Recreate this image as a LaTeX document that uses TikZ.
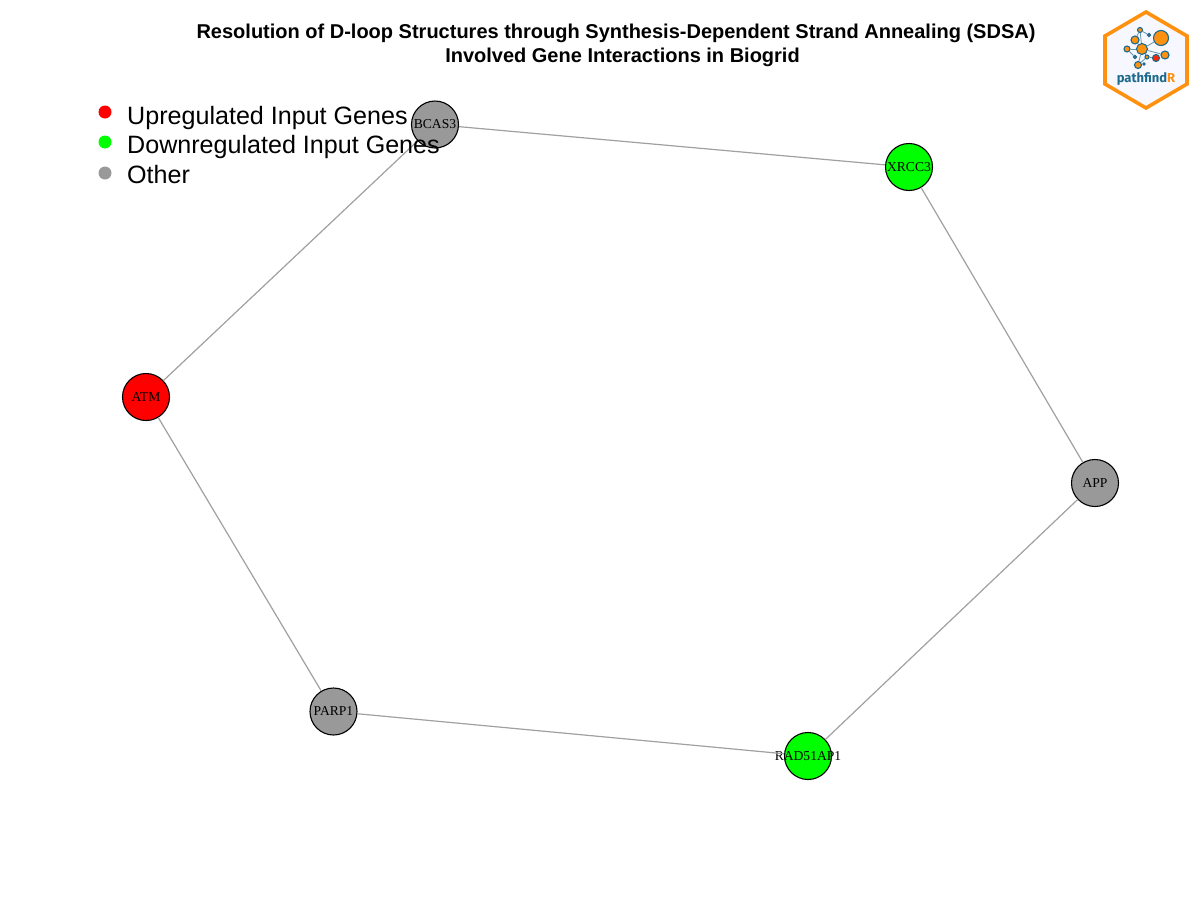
\documentclass[tikz,border=0pt]{standalone}
\usepackage{xcolor}
\usepackage{fontspec}
\setmainfont{Liberation Sans}
\newfontfamily\genefont{Liberation Serif}
\newfontfamily\logofont{Fira Sans}
\usepackage{tikz}
\usetikzlibrary{
  arrows.meta,
  positioning,
  calc
}
\definecolor{othergray}{HTML}{999999}
\definecolor{linkgray}{HTML}{A0A0A0}
\definecolor{logoorange}{HTML}{FF9110}
\definecolor{logoblue}{HTML}{1B6A8C}
\tikzset{
    gene/.style={circle, draw=black, line width=1.1pt, minimum size=47pt, inner sep=0pt, font=\genefont\fontsize{13.6}{15}\selectfont},
    edgeline/.style={draw=linkgray, line width=1.2pt},
    dot/.style={circle, minimum size=13pt, inner sep=0pt},
    legendtext/.style={anchor=base west, inner sep=0pt, font=\fontsize{25.1}{30}\selectfont},
    titletext/.style={anchor=base, inner sep=0pt, font=\bfseries\fontsize{20}{24}\selectfont},
    hub/.style={circle, draw=logoblue, fill=logoorange, line width=1.1pt, inner sep=0pt, minimum size=#1},
    hubline/.style={draw=logoblue!70!white, line width=0.8pt}
}
\begin{document}
\begin{tikzpicture}[x=1pt, y=-1pt]
        \useasboundingbox (0,0) rectangle (1200,900);
        % Genes
        \node[gene, fill=othergray] (bcas3) at (435,124.5) {BCAS3};
        \node[gene, fill=green] (xrcc3) at (909,167) {XRCC3};
        \node[gene, fill=othergray] (app) at (1095,483) {APP};
        \node[gene, fill=green] (rad51ap1) at (808,756) {\makebox[0pt]{RAD51AP1}};
        \node[gene, fill=othergray] (parp1) at (333.5,711.5) {PARP1};
        \node[gene, fill=red] (atm) at (146,397) {ATM};
        \draw[edgeline] (bcas3)--(xrcc3); \draw[edgeline] (xrcc3)--(app);
        \draw[edgeline] (app)--(rad51ap1); \draw[edgeline] (rad51ap1)--(parp1);
        \draw[edgeline] (parp1)--(atm); \draw[edgeline] (atm)--(bcas3);
        % Title
        \node[titletext] (title1) at (616,38) {Resolution of D-loop Structures through Synthesis-Dependent Strand Annealing (SDSA)};
        \node[titletext] (title2) at (622.5,62) {Involved Gene Interactions in Biogrid};
        % Legend
        \node[dot, fill=red] (upd) at (105,112) {};
        \node[dot, fill=green] (downd) at (105,142) {};
        \node[dot, fill=othergray] (otherd) at (105,173) {};
        \node[legendtext] (upt) at (127,124) {Upregulated Input Genes};
        \node[legendtext] (downt) at (127,153.5) {Downregulated Input Genes};
        \node[legendtext] (othert) at (127,183.5) {Other};
        % Logo
        \draw[draw=logoorange, fill=blue!3!white, line width=3.6pt, line join=miter] (1146,12)--(1187,36)--(1187,84)--(1146,108)--(1105,84)--(1105,36)--cycle;
        \node[hub=15pt] (l1) at (1161,38) {};
        \node[hub=11pt] (l2) at (1142,49) {};
        \node[hub=8pt] (l3) at (1135,40) {};
        \node[hub=5pt] (l4) at (1140,30) {};
        \node[hub=3pt] (l5) at (1149,35) {};
        \node[hub=6pt] (l6) at (1127,49) {};
        \node[hub=3pt] (l7) at (1135,57) {};
        \node[hub=7pt] (l8) at (1138,65) {};
        \node[hub=2pt] (l9) at (1144,64) {};
        \node[hub=4pt] (l10) at (1147,57) {};
        \node[hub=7pt, fill=red!70!orange] (l11) at (1156,58) {};
        \node[hub=8pt] (l12) at (1165,55) {};
        \draw[hubline] (l2)--(l1); \draw[hubline] (l2)--(l3);
        \draw[hubline] (l3)--(l4); \draw[hubline] (l4)--(l5);
        \draw[hubline] (l2)--(l6); \draw[hubline] (l6)--(l7);
        \draw[hubline] (l2)--(l8); \draw[hubline] (l2)--(l10);
        \draw[hubline] (l2)--(l12); \draw[hubline] (l10)--(l8);
        \draw[hubline] (l4)--(l2); \draw[hubline] (l10)--(l11);
        \node[inner sep=0pt, text=logoblue, font=\logofont\bfseries\fontsize{13}{15}\selectfont] (logotext) at (1146,79) {pathfind\textcolor{logoorange}{R}};
    \end{tikzpicture}
\end{document}
